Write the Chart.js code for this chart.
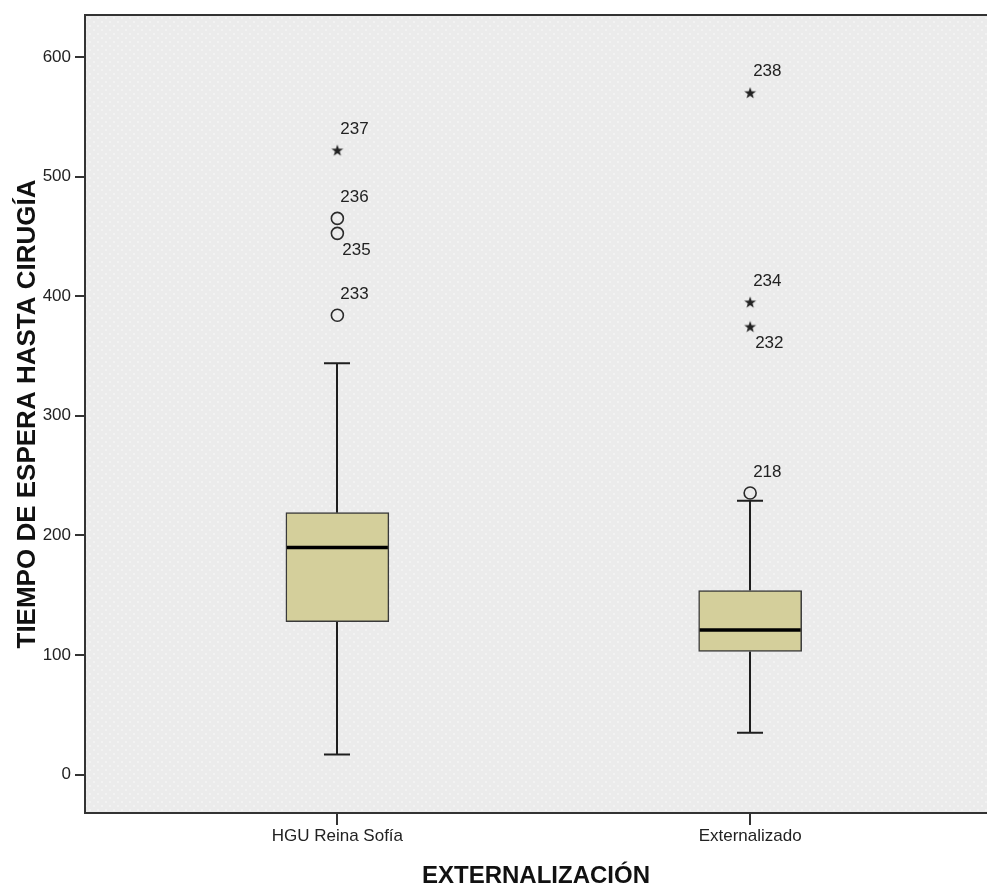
<!DOCTYPE html>
<html>
<head>
<meta charset="utf-8">
<script src="https://cdn.jsdelivr.net/npm/chart.js@4/dist/chart.umd.min.js"></script>
<style>
  html, body { margin: 0; padding: 0; background: #ffffff; }
  #wrap { width: 987px; height: 888px; }
</style>
</head>
<body>
<div id="wrap"><canvas id="c" width="987" height="888"></canvas></div>
<script>
// Waiting time until surgery, by hospital type (box-and-whisker summary)
const categories = ['HGU Reina Sofía', 'Externalizado'];
const whiskerLow = [17, 35];
const q1 = [128, 103];
const median = [190, 121];
const q3 = [219, 154];
const whiskerHigh = [344, 229];

// Outlying cases: group index, value, case number, extreme (*) or mild (o)
const outlierGroup = [0, 0, 0, 0, 1, 1, 1, 1];
const outlierValue = [522, 465, 452.5, 384, 570, 395, 374.5, 235.5];
const outlierCase = ['237', '236', '235', '233', '238', '234', '232', '218'];
const outlierExtreme = [true, false, false, false, true, true, true, false];
const labelsBelow = ['235', '232'];

const yTicks = [0, 100, 200, 300, 400, 500, 600];
const yTitle = 'TIEMPO DE ESPERA HASTA CIRUGÍA';
const xTitle = 'EXTERNALIZACIÓN';

const FONT = "'Liberation Sans', Arial, Helvetica, sans-serif";
const INK = '#1e1e1e';
const BOX_WIDTH = 103;
const CAP_WIDTH = 26;

// Dotted light-grey fill for the plotting area
function makeDotPattern(ctx) {
  const t = document.createElement('canvas');
  t.width = 8; t.height = 8;
  const g = t.getContext('2d');
  g.fillStyle = '#ebebeb';
  g.fillRect(0, 0, 8, 8);
  g.fillStyle = '#f5f5f5';
  g.beginPath(); g.arc(2, 2, 1, 0, Math.PI * 2); g.fill();
  g.beginPath(); g.arc(6, 6, 1, 0, Math.PI * 2); g.fill();
  return ctx.createPattern(t, 'repeat');
}

// Small filled five-point star used for extreme values
function makeStar() {
  const s = document.createElement('canvas');
  s.width = 14; s.height = 14;
  const g = s.getContext('2d');
  g.fillStyle = '#222';
  g.beginPath();
  for (let i = 0; i < 10; i++) {
    const r = i % 2 === 0 ? 6.2 : 2.5;
    const a = -Math.PI / 2 + i * Math.PI / 5;
    const px = 7 + r * Math.cos(a), py = 7.5 + r * Math.sin(a);
    if (i === 0) g.moveTo(px, py); else g.lineTo(px, py);
  }
  g.closePath();
  g.fill();
  return s;
}

const plotBackground = {
  id: 'plotBackground',
  beforeDraw(chart) {
    const { ctx, chartArea: a } = chart;
    ctx.save();
    ctx.fillStyle = makeDotPattern(ctx);
    ctx.fillRect(a.left, a.top, a.right - a.left, a.bottom - a.top);
    ctx.strokeStyle = '#333';
    ctx.lineWidth = 2;
    ctx.beginPath();
    ctx.moveTo(a.left, a.top);
    ctx.lineTo(a.right, a.top);
    ctx.stroke();
    ctx.restore();
  }
};

const whiskers = {
  id: 'whiskers',
  beforeDatasetsDraw(chart) {
    const { ctx, scales: { x, y } } = chart;
    ctx.save();
    ctx.strokeStyle = INK;
    ctx.lineWidth = 2;
    categories.forEach((_, i) => {
      const cx = Math.round(x.getPixelForValue(i + 1));
      const lo = y.getPixelForValue(whiskerLow[i]);
      const hi = y.getPixelForValue(whiskerHigh[i]);
      ctx.beginPath();
      ctx.moveTo(cx, lo); ctx.lineTo(cx, y.getPixelForValue(q1[i]));
      ctx.moveTo(cx, y.getPixelForValue(q3[i])); ctx.lineTo(cx, hi);
      ctx.moveTo(cx - CAP_WIDTH / 2, lo); ctx.lineTo(cx + CAP_WIDTH / 2, lo);
      ctx.moveTo(cx - CAP_WIDTH / 2, hi); ctx.lineTo(cx + CAP_WIDTH / 2, hi);
      ctx.stroke();
    });
    ctx.restore();
  },
  afterDatasetsDraw(chart) {
    const { ctx, scales: { x, y } } = chart;
    ctx.save();
    // median bars
    ctx.strokeStyle = '#000';
    ctx.lineWidth = 3.5;
    categories.forEach((_, i) => {
      const cx = x.getPixelForValue(i + 1);
      const my = y.getPixelForValue(median[i]);
      ctx.beginPath();
      ctx.moveTo(cx - BOX_WIDTH / 2 + 1, my);
      ctx.lineTo(cx + BOX_WIDTH / 2 - 1, my);
      ctx.stroke();
    });
    // case labels beside the outlying points
    ctx.fillStyle = '#222';
    ctx.font = '17px ' + FONT;
    ctx.textAlign = 'left';
    ctx.textBaseline = 'middle';
    outlierValue.forEach((v, k) => {
      const px = x.getPixelForValue(outlierGroup[k] + 1);
      const py = y.getPixelForValue(v);
      const below = labelsBelow.includes(outlierCase[k]);
      ctx.fillText(outlierCase[k], px + (below ? 5 : 3), py + (below ? 17 : -21));
    });
    ctx.restore();
  }
};

const star = makeStar();
const mildPoints = [], extremePoints = [];
outlierValue.forEach((v, k) => {
  const pt = { x: outlierGroup[k] + 1, y: v };
  (outlierExtreme[k] ? extremePoints : mildPoints).push(pt);
});

new Chart(document.getElementById('c'), {
  type: 'bar',
  data: {
    datasets: [
      {
        type: 'bar',
        data: categories.map((_, i) => ({ x: i + 1, y: [q1[i], q3[i]] })),
        backgroundColor: '#d4cf9b',
        borderColor: '#3a3a3a',
        borderWidth: 1.5,
        borderSkipped: false,
        barThickness: BOX_WIDTH
      },
      {
        type: 'scatter',
        data: mildPoints,
        pointStyle: 'circle',
        pointRadius: 6,
        pointBorderWidth: 1.6,
        pointBorderColor: '#2a2a2a',
        pointBackgroundColor: 'rgba(0,0,0,0)'
      },
      {
        type: 'scatter',
        data: extremePoints,
        pointStyle: star,
        pointRadius: 6
      }
    ]
  },
  options: {
    responsive: false,
    animation: false,
    devicePixelRatio: 1,
    layout: { padding: { top: 15, right: 0, bottom: 0, left: 0 }, autoPadding: false },
    plugins: { legend: { display: false }, tooltip: { enabled: false } },
    scales: {
      x: {
        type: 'linear',
        offset: false,
        min: 0.3886,
        max: 2.5738,
        afterBuildTicks: s => { s.ticks = categories.map((_, i) => ({ value: i + 1 })); },
        afterFit: s => { s.height = 75; },
        ticks: {
          callback: v => categories[Math.round(v) - 1],
          font: { family: FONT, size: 17 },
          color: '#222',
          padding: 1,
          maxRotation: 0,
          autoSkip: false
        },
        grid: { offset: false, drawOnChartArea: false, drawTicks: true, tickLength: 12, color: '#333', lineWidth: 2 },
        border: { display: true, color: '#333', width: 2 },
        title: {
          display: true,
          text: xTitle,
          color: '#111',
          font: { family: FONT, size: 24, weight: 'bold', lineHeight: 1 },
          padding: { top: 0, bottom: 0 }
        }
      },
      y: {
        type: 'linear',
        min: -32,
        max: 635,
        afterBuildTicks: s => { s.ticks = yTicks.map(v => ({ value: v })); },
        afterFit: s => { s.width = 85; },
        ticks: {
          font: { family: FONT, size: 17 },
          color: '#222',
          padding: 4
        },
        grid: { drawOnChartArea: false, drawTicks: true, tickLength: 10, color: '#333', lineWidth: 2 },
        border: { display: true, color: '#333', width: 2 },
        title: {
          display: true,
          text: yTitle,
          color: '#111',
          font: { family: FONT, size: 26, weight: 'bold', lineHeight: 1.2 },
          padding: { top: 12, bottom: 0 }
        }
      }
    }
  },
  plugins: [plotBackground, whiskers]
});
</script>
</body>
</html>
